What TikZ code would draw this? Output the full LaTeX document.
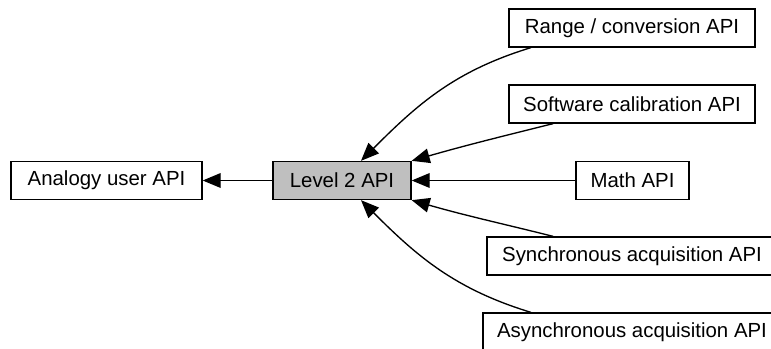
\documentclass[tikz,border=0pt]{standalone}
\usepackage{fontspec}
\setmainfont{Liberation Sans}
\usetikzlibrary{positioning}
\usetikzlibrary{arrows.meta}

\begin{document}
\begin{tikzpicture}[x=0.75pt, y=0.75pt,
  apibox/.style={draw, line width=1pt, inner sep=0pt, minimum height=28.5pt,
    font=\fontsize{15.3}{18}\selectfont},
  curbox/.style={apibox, fill=black!25},
  dep/.style={line width=1pt, -{Triangle[length=13.5pt, width=11pt]}}]
\useasboundingbox (0,0) rectangle (771,-349);

\node[apibox, minimum width=143.25pt] (user) at (106.5,-180.5) {Analogy user API};
\node[curbox, minimum width=103.5pt] (level2) at (342,-180.5) {Level 2 API};

\node[apibox, minimum width=184.5pt] (range) at (632,-28) {Range / conversion API};
\node[apibox, minimum width=184.5pt] (soft) at (632,-104) {Software calibration API};
\node[apibox, minimum width=84.75pt] (math) at (632.5,-180.5) {Math API};
\node[apibox, minimum width=217.5pt] (sync) at (632,-256) {Synchronous acquisition API};
\node[apibox, minimum width=223.5pt] (async) at (632,-332) {Asynchronous acquisition API};

\draw[dep] (level2.west) -- (user.east);

\draw[dep] (range.191) to[out=197, in=45] (level2.46);
\draw[dep] (soft.194) to[out=194, in=16] (level2.north east);
\draw[dep] (math.west) -- (level2.east);
\draw[dep] (sync.166) to[out=166, in=-16] (level2.south east);
\draw[dep] (async.169) to[out=163, in=-45] (level2.-46);
\end{tikzpicture}
\end{document}
